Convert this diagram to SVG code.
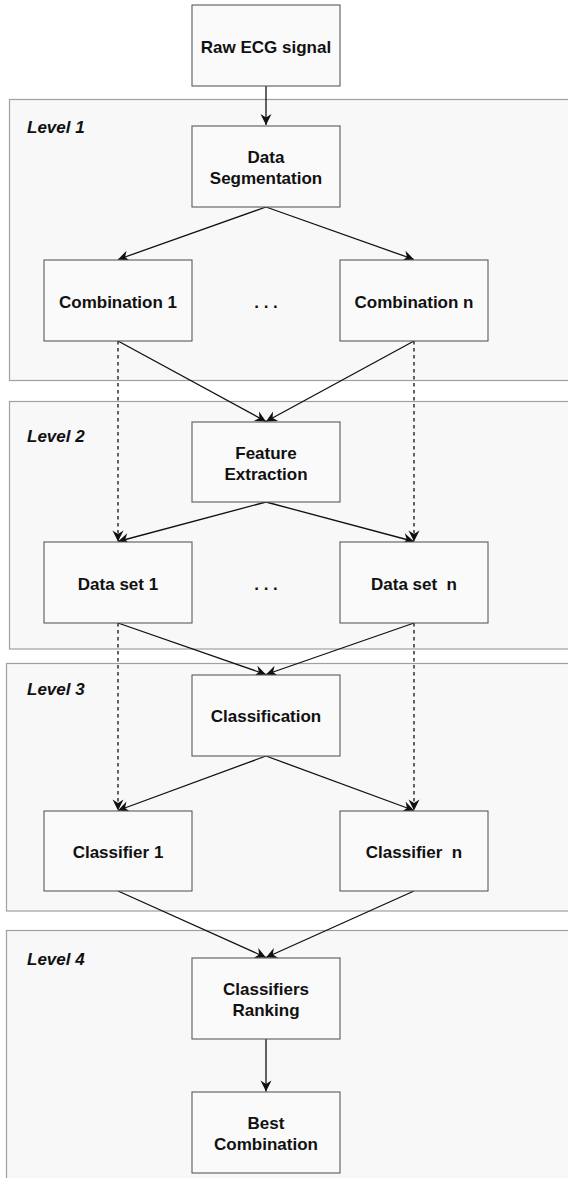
<svg xmlns="http://www.w3.org/2000/svg" width="568" height="1178" viewBox="0 0 568 1178">
<style>
.lvl{fill:#f8f8f8;stroke:#a0a0a0;stroke-width:1.2}
.box{fill:#fafafa;stroke:#5a5a5a;stroke-width:1.1}
.t{font-family:"Liberation Sans",Arial,Helvetica,sans-serif;font-weight:bold;font-size:17px;fill:#111;text-anchor:middle}
.lt{font-family:"Liberation Sans",Arial,Helvetica,sans-serif;font-weight:bold;font-style:italic;font-size:17px;fill:#111}
.e{fill:none;stroke:#111;stroke-width:1.3;marker-end:url(#ah)}
.d{stroke-dasharray:3.5 3.5}
</style>
<defs>
<marker id="ah" markerUnits="userSpaceOnUse" markerWidth="13" markerHeight="13" viewBox="-12 -6.5 13 13" refX="0" refY="0" orient="auto">
<path d="M0,0 L-11,-5.5 L-7.5,0 L-11,5.5 Z" fill="#111"/>
</marker>
</defs>
<g id="level1"><rect class="lvl" x="9.5" y="99.5" width="570" height="281"/><text class="lt" x="27" y="133">Level 1</text></g>
<g id="level2"><rect class="lvl" x="9.5" y="401.5" width="570" height="247.5"/><text class="lt" x="27" y="442">Level 2</text></g>
<g id="level3"><rect class="lvl" x="6.5" y="663.5" width="570" height="247.5"/><text class="lt" x="27" y="695">Level 3</text></g>
<g id="level4"><rect class="lvl" x="6.5" y="930.5" width="570" height="260"/><text class="lt" x="27" y="965">Level 4</text></g>

<g id="connectors">
<path class="e" d="M266,86 V125"/>
<path class="e" d="M266,207 L118,259.5"/>
<path class="e" d="M266,207 L414,259.5"/>
<path class="e" d="M118,341 L266,421.5"/>
<path class="e" d="M414,341 L266,421.5"/>
<path class="e d" d="M118,341 V541.5"/>
<path class="e d" d="M414,341 V541.5"/>
<path class="e" d="M266,502 L118,541.5"/>
<path class="e" d="M266,502 L414,541.5"/>
<path class="e" d="M118,623 L266,674.5"/>
<path class="e" d="M414,623 L266,674.5"/>
<path class="e d" d="M118,623 V810.5"/>
<path class="e d" d="M414,623 V810.5"/>
<path class="e" d="M266,756 L118,810.5"/>
<path class="e" d="M266,756 L414,810.5"/>
<path class="e" d="M118,891 L266,957.5"/>
<path class="e" d="M414,891 L266,957.5"/>
<path class="e" d="M266,1039 V1091.5"/>
</g>

<g id="raw"><rect class="box" x="192" y="5" width="148" height="81"/><text class="t" x="266" y="53">Raw ECG signal</text></g>
<g id="seg"><rect class="box" x="192" y="126" width="148" height="81"/><text class="t" x="266" y="163">Data</text><text class="t" x="266" y="184">Segmentation</text></g>
<g id="comb1"><rect class="box" x="44" y="260" width="148" height="81"/><text class="t" x="118" y="308">Combination 1</text></g>
<g id="dots1"><text class="t" x="266" y="308">. . .</text></g>
<g id="combn"><rect class="box" x="340" y="260" width="148" height="81"/><text class="t" x="414" y="308">Combination n</text></g>
<g id="feat"><rect class="box" x="192" y="422" width="148" height="80"/><text class="t" x="266" y="459">Feature</text><text class="t" x="266" y="480">Extraction</text></g>
<g id="ds1"><rect class="box" x="44" y="542" width="148" height="81"/><text class="t" x="118" y="590">Data set 1</text></g>
<g id="dots2"><text class="t" x="266" y="590">. . .</text></g>
<g id="dsn"><rect class="box" x="340" y="542" width="148" height="81"/><text class="t" x="414" y="590" xml:space="preserve">Data set  n</text></g>
<g id="cls"><rect class="box" x="192" y="675" width="148" height="81"/><text class="t" x="266" y="722">Classification</text></g>
<g id="c1"><rect class="box" x="44" y="811" width="148" height="80"/><text class="t" x="118" y="858">Classifier 1</text></g>
<g id="cn"><rect class="box" x="340" y="811" width="148" height="80"/><text class="t" x="414" y="858" xml:space="preserve">Classifier  n</text></g>
<g id="rank"><rect class="box" x="192" y="958" width="148" height="81"/><text class="t" x="266" y="995">Classifiers</text><text class="t" x="266" y="1016">Ranking</text></g>
<g id="best"><rect class="box" x="192" y="1092" width="148" height="81"/><text class="t" x="266" y="1129">Best</text><text class="t" x="266" y="1150">Combination</text></g>
</svg>
